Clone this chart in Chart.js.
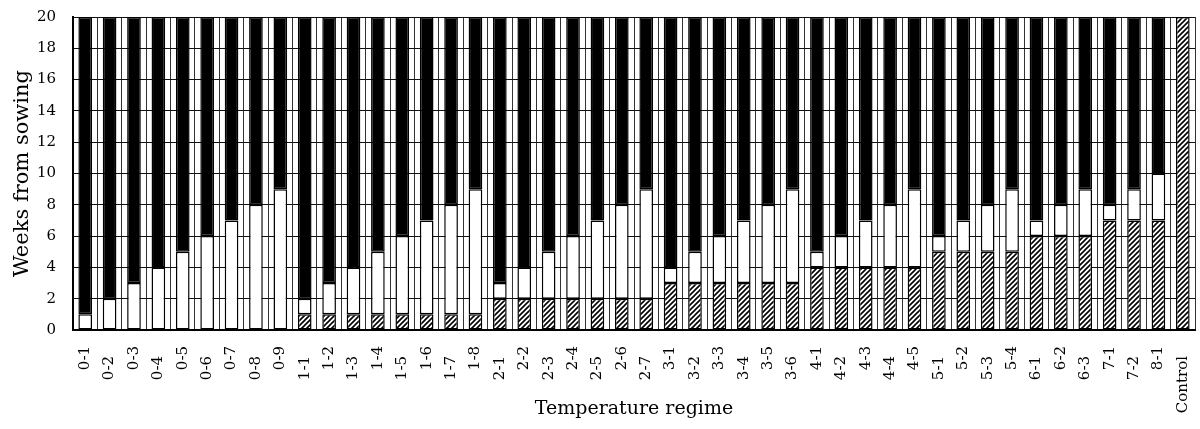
<!DOCTYPE html>
<html>
<head>
<meta charset="utf-8">
<script src="https://cdn.jsdelivr.net/npm/chart.js@4/dist/chart.umd.min.js"></script>
<style>
  body { margin: 0; background: #fff; }
  #wrap { width: 1200px; height: 429px; }
</style>
</head>
<body>
<div id="wrap"><canvas id="regimeChart" width="1200" height="429"></canvas></div>
<script>
// categories (temperature regimes)
const regimes = [
  '0-1', '0-2', '0-3', '0-4', '0-5', '0-6', '0-7', '0-8', '0-9',
  '1-1', '1-2', '1-3', '1-4', '1-5', '1-6', '1-7', '1-8',
  '2-1', '2-2', '2-3', '2-4', '2-5', '2-6', '2-7',
  '3-1', '3-2', '3-3', '3-4', '3-5', '3-6',
  '4-1', '4-2', '4-3', '4-4', '4-5',
  '5-1', '5-2', '5-3', '5-4',
  '6-1', '6-2', '6-3',
  '7-1', '7-2',
  '8-1',
  'Control'
];

// hatched segment (bottom), weeks
const hatchedWeeks = [
  0, 0, 0, 0, 0, 0, 0, 0, 0,
  1, 1, 1, 1, 1, 1, 1, 1,
  2, 2, 2, 2, 2, 2, 2,
  3, 3, 3, 3, 3, 3,
  4, 4, 4, 4, 4,
  5, 5, 5, 5,
  6, 6, 6,
  7, 7,
  7,
  20
];

// white segment (middle), weeks
const whiteWeeks = [
  1, 2, 3, 4, 5, 6, 7, 8, 9,
  1, 2, 3, 4, 5, 6, 7, 8,
  1, 2, 3, 4, 5, 6, 7,
  1, 2, 3, 4, 5, 6,
  1, 2, 3, 4, 5,
  1, 2, 3, 4,
  1, 2, 3,
  1, 2,
  3,
  0
];

// black segment (top), weeks
const blackWeeks = [
  19, 18, 17, 16, 15, 14, 13, 12, 11,
  18, 17, 16, 15, 14, 13, 12, 11,
  17, 16, 15, 14, 13, 12, 11,
  16, 15, 14, 13, 12, 11,
  15, 14, 13, 12, 11,
  14, 13, 12, 11,
  13, 12, 11,
  12, 11,
  10,
  0
];

const yTicks = [0, 2, 4, 6, 8, 10, 12, 14, 16, 18, 20];

function makeHatch() {
  const c = document.createElement('canvas');
  c.width = 5;
  c.height = 5;
  const g = c.getContext('2d');
  g.fillStyle = '#fff';
  g.fillRect(0, 0, 5, 5);
  g.strokeStyle = '#000';
  g.lineWidth = 1.6;
  g.beginPath();
  g.moveTo(-1, 6); g.lineTo(6, -1);
  g.moveTo(-1, 1); g.lineTo(1, -1);
  g.moveTo(4, 6); g.lineTo(6, 4);
  g.stroke();
  return g.createPattern(c, 'repeat');
}

const serif = "'DejaVu Serif', 'Liberation Serif', serif";
const barBase = {
  borderColor: '#000',
  borderWidth: c => (c.raw ? 1.5 : 0),
  borderSkipped: false,
  barPercentage: 0.56,
  categoryPercentage: 1.0
};

// rotated category labels, every other one set a little lower (as in the original)
const staggeredLabels = {
  id: 'staggeredLabels',
  afterDraw(chart) {
    const xs = chart.scales.x;
    const g = chart.ctx;
    g.save();
    g.fillStyle = '#000';
    g.font = '15px ' + serif;
    g.textAlign = 'right';
    g.textBaseline = 'middle';
    regimes.forEach((lab, i) => {
      const x = xs.getPixelForTick(i);
      const y = xs.top + 16 + (i % 2 === 1 ? 10 : 0);
      g.save();
      g.translate(x, y);
      g.rotate(-Math.PI / 2);
      g.fillText(lab, 0, 0);
      g.restore();
    });
    g.restore();
  }
};

const ctx = document.getElementById('regimeChart').getContext('2d');
new Chart(ctx, {
  type: 'bar',
  data: {
    labels: regimes,
    datasets: [
      Object.assign({ label: 'Hatched', data: hatchedWeeks, backgroundColor: makeHatch() }, barBase),
      Object.assign({ label: 'White', data: whiteWeeks, backgroundColor: '#fff' }, barBase),
      Object.assign({ label: 'Black', data: blackWeeks, backgroundColor: '#000' }, barBase)
    ]
  },
  options: {
    responsive: false,
    animation: false,
    layout: { autoPadding: false, padding: { top: 17, right: 5, left: 2, bottom: 9 } },
    plugins: {
      legend: { display: false },
      title: { display: false },
      tooltip: { enabled: false }
    },
    scales: {
      x: {
        stacked: true,
        offset: true,
        grid: { offset: true, color: '#333', lineWidth: 1, drawTicks: false },
        border: { color: '#000', width: 2 },
        afterFit: function (scale) {
          scale.height = 90;
        },
        ticks: { display: false },
        title: {
          display: true,
          text: 'Temperature regime',
          color: '#000',
          font: { family: serif, size: 19 },
          padding: { top: 0, bottom: 0 }
        }
      },
      y: {
        stacked: true,
        min: 0,
        max: 20,
        afterBuildTicks: function (axis) {
          axis.ticks = yTicks.map(v => ({ value: v }));
        },
        afterFit: function (scale) {
          scale.width = 71;
          scale.paddingTop = 0;
          scale.paddingBottom = 0;
        },
        grid: { color: '#111', lineWidth: 1, drawTicks: false },
        border: { color: '#000', width: 2 },
        ticks: {
          padding: 17,
          color: '#000',
          font: { family: serif, size: 15 }
        },
        title: {
          display: true,
          text: 'Weeks from sowing',
          color: '#000',
          font: { family: serif, size: 21 },
          padding: { top: 8, bottom: 0 }
        }
      }
    }
  },
  plugins: [staggeredLabels]
});
</script>
</body>
</html>
